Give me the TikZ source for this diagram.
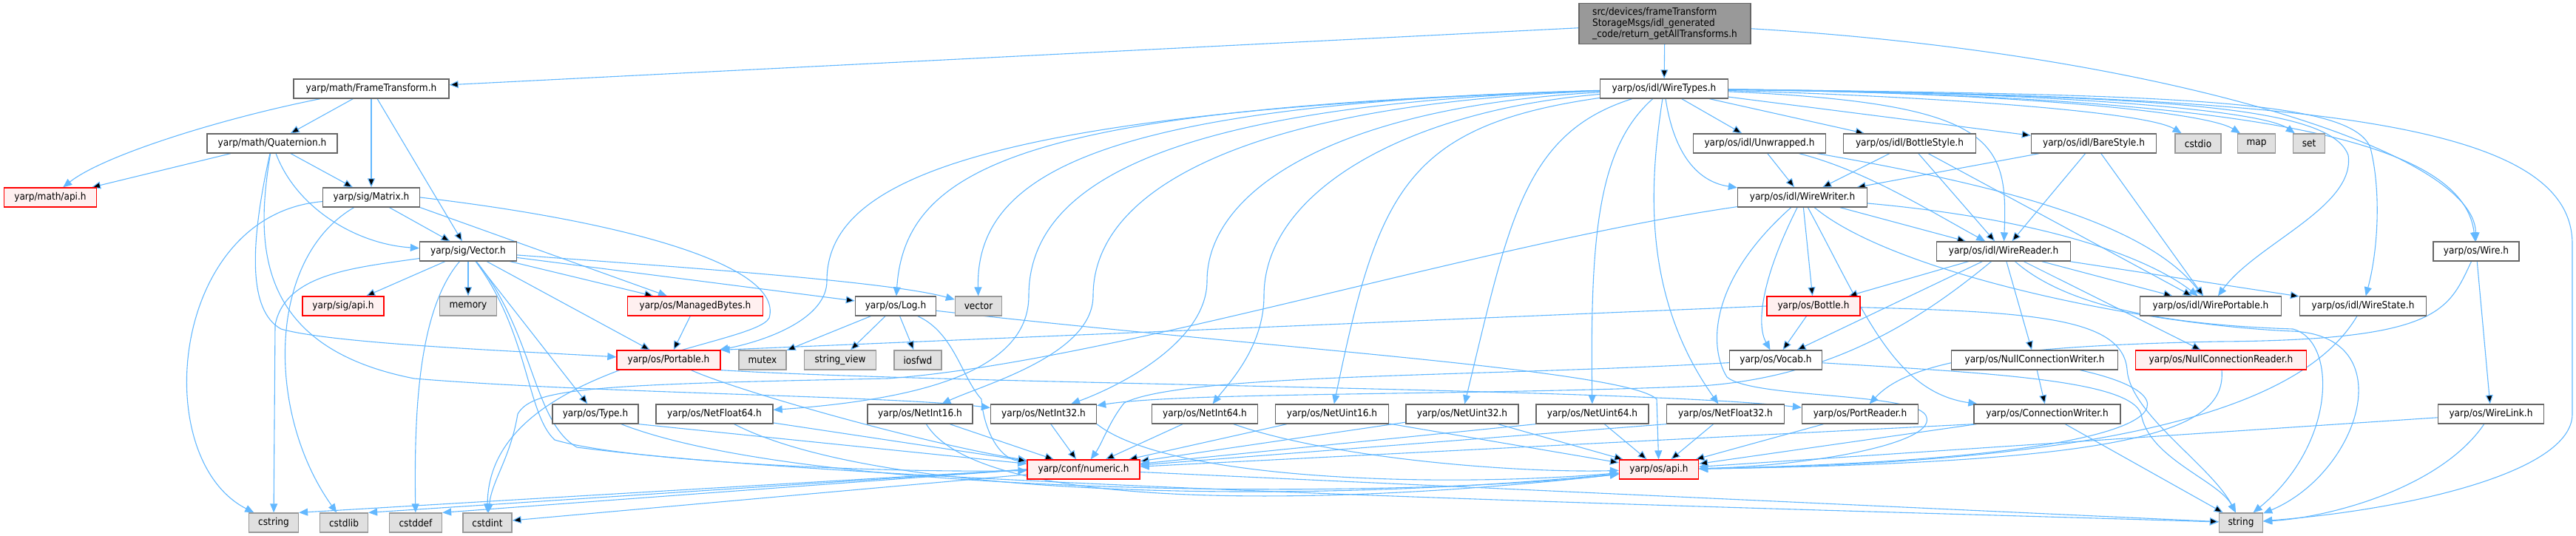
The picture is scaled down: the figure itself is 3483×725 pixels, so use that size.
\documentclass[tikz,border=0pt]{standalone}
\usepackage{fontspec}
\setmainfont{DejaVu Sans Condensed}
\usetikzlibrary{arrows.meta}
\definecolor{edgeblue}{HTML}{63B8FF}
\definecolor{boxline}{HTML}{666666}
\definecolor{sysline}{HTML}{999999}
\definecolor{sysfill}{HTML}{E0E0E0}
\definecolor{cutfill}{HTML}{FFF0F0}
\definecolor{rootfill}{HTML}{999999}
\pgfdeclarelayer{bg}
\pgfsetlayers{bg,main}
\tikzset{
  >={Triangle[length=12pt,width=10pt]},
  hdr/.style={draw=boxline,fill=white,line width=1.3pt,minimum height=26pt,
    inner sep=0pt,font=\fontsize{13.5}{15}\selectfont},
  syshdr/.style={hdr,draw=sysline,fill=sysfill},
  cuthdr/.style={hdr,draw=red,fill=cutfill},
  roothdr/.style={hdr,fill=rootfill,minimum height=55pt,align=left},
  dep/.style={->,draw=edgeblue,line width=1.1pt},
}
\begin{document}
\begin{tikzpicture}[x=1pt,y=1pt]
  \useasboundingbox (0,0) rectangle (3483,-725);
  \node[roothdr,minimum width=232pt] (ret) at (2251,-32)
       {src/devices/frameTransform\\StorageMsgs/idl\_generated\\\_code/return\_getAllTransforms.h};
  \node[hdr,minimum width=210pt] (ft) at (502,-120) {yarp/math/FrameTransform.h};
  \node[hdr,minimum width=173pt] (wt) at (2250,-120) {yarp/os/idl/WireTypes.h};
  \node[hdr,minimum width=176pt] (quat) at (368,-194) {yarp/math/Quaternion.h};
  \node[hdr,minimum width=179pt] (unw) at (2379,-194) {yarp/os/idl/Unwrapped.h};
  \node[hdr,minimum width=179pt] (bot) at (2582,-194) {yarp/os/idl/BottleStyle.h};
  \node[hdr,minimum width=169pt] (bare) at (2831,-194) {yarp/os/idl/BareStyle.h};
  \node[syshdr,minimum width=62pt] (cstdio) at (2972,-194) {cstdio};
  \node[syshdr,minimum width=51pt] (map) at (3051,-194) {map};
  \node[syshdr,minimum width=43pt] (set) at (3122,-194) {set};
  \node[cuthdr,minimum width=125pt] (mapi) at (68,-267) {yarp/math/api.h};
  \node[hdr,minimum width=131pt] (mat) at (502,-267) {yarp/sig/Matrix.h};
  \node[hdr,minimum width=175pt] (ww) at (2437,-267) {yarp/os/idl/WireWriter.h};
  \node[hdr,minimum width=131pt] (vec) at (633,-340) {yarp/sig/Vector.h};
  \node[hdr,minimum width=181pt] (wr) at (2709,-340) {yarp/os/idl/WireReader.h};
  \node[hdr,minimum width=116pt] (wire) at (3348,-340) {yarp/os/Wire.h};
  \node[cuthdr,minimum width=110pt] (sapi) at (464,-414) {yarp/sig/api.h};
  \node[syshdr,minimum width=77pt] (mem) at (633,-414) {memory};
  \node[cuthdr,minimum width=183pt] (mb) at (940,-414) {yarp/os/ManagedBytes.h};
  \node[hdr,minimum width=109pt] (log) at (1211,-414) {yarp/os/Log.h};
  \node[syshdr,minimum width=63pt] (vector) at (1323,-414) {vector};
  \node[cuthdr,minimum width=126pt] (bottle) at (2452,-414) {yarp/os/Bottle.h};
  \node[hdr,minimum width=191pt] (wp) at (2989,-414) {yarp/os/idl/WirePortable.h};
  \node[hdr,minimum width=171pt] (ws) at (3195,-414) {yarp/os/idl/WireState.h};
  \node[cuthdr,minimum width=140pt] (port) at (904,-487) {yarp/os/Portable.h};
  \node[syshdr,minimum width=64pt] (mutex) at (1031,-487) {mutex};
  \node[syshdr,minimum width=97pt] (sv) at (1136,-487) {string\_view};
  \node[syshdr,minimum width=64pt] (iosfwd) at (1241,-487) {iosfwd};
  \node[hdr,minimum width=125pt] (vocab) at (2401,-487) {yarp/os/Vocab.h};
  \node[hdr,minimum width=225pt] (ncw) at (2751,-487) {yarp/os/NullConnectionWriter.h};
  \node[cuthdr,minimum width=231pt] (ncr) at (3003,-487) {yarp/os/NullConnectionReader.h};
  \node[hdr,minimum width=116pt] (type) at (805,-560) {yarp/os/Type.h};
  \node[hdr,minimum width=158pt] (nf64) at (966,-560) {yarp/os/NetFloat64.h};
  \node[hdr,minimum width=142pt] (ni16) at (1244,-560) {yarp/os/NetInt16.h};
  \node[hdr,minimum width=143pt] (ni32) at (1411,-560) {yarp/os/NetInt32.h};
  \node[hdr,minimum width=143pt] (ni64) at (1629,-560) {yarp/os/NetInt64.h};
  \node[hdr,minimum width=153pt] (nu16) at (1801,-560) {yarp/os/NetUint16.h};
  \node[hdr,minimum width=152pt] (nu32) at (1977,-560) {yarp/os/NetUint32.h};
  \node[hdr,minimum width=152pt] (nu64) at (2153,-560) {yarp/os/NetUint64.h};
  \node[hdr,minimum width=159pt] (nf32) at (2333,-560) {yarp/os/NetFloat32.h};
  \node[hdr,minimum width=157pt] (pr) at (2515,-560) {yarp/os/PortReader.h};
  \node[hdr,minimum width=198pt] (cw) at (2768,-560) {yarp/os/ConnectionWriter.h};
  \node[hdr,minimum width=143pt] (wl) at (3368,-560) {yarp/os/WireLink.h};
  \node[cuthdr,minimum width=152pt] (num) at (1465,-635) {yarp/conf/numeric.h};
  \node[cuthdr,minimum width=107pt] (oapi) at (2243,-635) {yarp/os/api.h};
  \node[syshdr,minimum width=67pt] (cstring) at (370,-707) {cstring};
  \node[syshdr,minimum width=65pt] (cstdlib) at (465,-707) {cstdlib};
  \node[syshdr,minimum width=71pt] (cstddef) at (562,-707) {cstddef};
  \node[syshdr,minimum width=66pt] (cstdint) at (659,-707) {cstdint};
  \node[syshdr,minimum width=59pt] (string) at (3030,-707) {string};

  \begin{pgfonlayer}{bg}
  % root and math part
  \draw[dep] (ret) edge (ft) edge (wt);
  \draw[dep] (ret) .. controls (2900,-70) and (3345,-200) .. (wire);
  \draw[dep] (ft) .. controls (300,-160) and (140,-210) .. (mapi);
  \draw[dep] (ft) edge (quat) edge (mat) edge (vec);
  \draw[dep] (quat) edge (mapi) edge (mat);
  \draw[dep] (quat) .. controls (400,-280) and (480,-330) .. (vec);
  \draw[dep] (quat) .. controls (338,-330) and (335,-420) .. (380,-445)
             .. controls (450,-465) and (700,-475) .. (port);
  \draw[dep] (quat) .. controls (345,-330) and (345,-470) .. (560,-512)
             .. controls (800,-532) and (1200,-535) .. (ni32);
  \draw[dep] (mat) .. controls (230,-290) and (200,-620) .. (cstring);
  \draw[dep] (mat) .. controls (360,-350) and (360,-560) .. (cstdlib);
  \draw[dep] (mat) edge (vec);
  \draw[dep] (mat.south east) -- (mb);
  \draw[dep] (mat.east) .. controls (850,-300) and (1060,-360) .. (1040,-430)
             .. controls (1020,-470) and (660,-490) .. (cstdint);
  % Vector
  \draw[dep] (vec) .. controls (480,-362) and (385,-370) .. (372,-440) -- (cstring);
  \draw[dep] (vec) edge (sapi) edge (mem) edge (type) edge (port) edge (mb) edge (log);
  \draw[dep] (vec) .. controls (900,-360) and (1200,-380) .. (vector);
  \draw[dep] (vec) .. controls (565,-420) and (560,-560) .. (cstddef);
  \draw[dep] (vec) .. controls (715,-450) and (712,-560) .. (750,-595)
             .. controls (850,-625) and (1200,-640) .. (num);
  \draw[dep] (vec) .. controls (722,-450) and (720,-570) .. (780,-605)
             .. controls (1200,-660) and (2500,-690) .. (string);
  % WireTypes
  \draw[dep] (wt) edge (unw) edge (bot) edge (bare);
  \draw[dep] (wt) .. controls (2600,-130) and (2900,-150) .. (cstdio);
  \draw[dep] (wt) .. controls (2700,-125) and (2980,-150) .. (map);
  \draw[dep] (wt) .. controls (2800,-125) and (3060,-150) .. (set);
  \draw[dep] (wt) .. controls (2262,-200) and (2290,-245) .. (ww);
  \draw[dep] (wt) .. controls (2700,-140) and (2715,-190) .. (wr);
  \draw[dep] (wt) .. controls (2900,-130) and (3150,-140) .. (3175,-210)
             .. controls (3185,-280) and (3050,-330) .. (wp);
  \draw[dep] (wt) .. controls (2950,-128) and (3180,-135) .. (3205,-200)
             .. controls (3220,-260) and (3215,-340) .. (ws);
  \draw[dep] (wt) .. controls (3000,-130) and (3330,-180) .. (wire);
  \draw[dep] (wt) .. controls (3100,-130) and (3478,-160) .. (3478,-330) -- (3478,-560)
             .. controls (3478,-640) and (3250,-690) .. (string);
  \draw[dep] (wt) .. controls (1300,-150) and (1118,-250) .. (1118,-380)
             .. controls (1118,-430) and (1040,-460) .. (port);
  \draw[dep] (wt) .. controls (1400,-145) and (1224,-220) .. (log);
  \draw[dep] (wt) .. controls (1500,-140) and (1319,-230) .. (vector);
  \draw[dep] (wt) .. controls (1600,-140) and (1391,-240) .. (1391,-400)
             .. controls (1391,-500) and (1250,-540) .. (nf64);
  \draw[dep] (wt) .. controls (1700,-140) and (1478,-250) .. (1478,-400)
             .. controls (1478,-480) and (1330,-520) .. (ni16);
  \draw[dep] (wt) .. controls (1800,-145) and (1632,-260) .. (1632,-380)
             .. controls (1632,-460) and (1520,-520) .. (ni32);
  \draw[dep] (wt) .. controls (1900,-150) and (1709,-260) .. (1709,-400)
             .. controls (1709,-470) and (1660,-520) .. (ni64);
  \draw[dep] (wt) .. controls (1900,-170) and (1863,-260) .. (nu16);
  \draw[dep] (wt) .. controls (2060,-180) and (2040,-300) .. (nu32);
  \draw[dep] (wt) .. controls (2160,-200) and (2150,-320) .. (nu64);
  \draw[dep] (wt) .. controls (2230,-250) and (2220,-400) .. (nf32);
  % idl styles
  \draw[dep] (unw) edge (ww);
  \draw[dep] (unw) .. controls (2520,-230) and (2600,-280) .. (wr);
  \draw[dep] (unw) .. controls (2700,-250) and (2900,-300) .. (wp);
  \draw[dep] (bot) edge (ww) edge (wr) edge (wp);
  \draw[dep] (bare) edge (ww) edge (wr) edge (wp);
  % WireWriter
  \draw[dep] (ww) edge (wr) edge (bottle);
  \draw[dep] (ww) .. controls (2520,-420) and (2560,-530) .. (cw);
  \draw[dep] (ww) .. controls (2380,-380) and (2375,-440) .. (vocab);
  \draw[dep] (ww) .. controls (2800,-300) and (2920,-360) .. (wp);
  \draw[dep] (ww) .. controls (2560,-370) and (2900,-440) .. (3100,-448)
             .. controls (3250,-455) and (3190,-640) .. (string);
  \draw[dep] (ww) .. controls (2310,-380) and (2310,-470) .. (2335,-510)
             .. controls (2370,-540) and (2600,-530) .. (2605,-565)
             .. controls (2615,-600) and (2450,-630) .. (oapi);
  \draw[dep] (ww) .. controls (2000,-330) and (1500,-490) .. (1200,-512)
             .. controls (800,-520) and (720,-525) .. (700,-560)
             .. controls (690,-620) and (665,-650) .. (cstdint);
  % WireReader
  \draw[dep] (wr) edge (bottle) edge (vocab) edge (ncw) edge (ncr) edge (wp) edge (ws);
  \draw[dep] (wr) .. controls (2600,-430) and (2480,-510) .. (2300,-522)
             .. controls (2000,-535) and (1600,-530) .. (ni32);
  \draw[dep] (wr) .. controls (2800,-420) and (2950,-440) .. (3100,-445)
             .. controls (3160,-460) and (3160,-600) .. (string);
  % Bottle and Vocab
  \draw[dep] (bottle.west) -- (port.north east);
  \draw[dep] (bottle) edge (vocab);
  \draw[dep] (bottle) .. controls (2750,-422) and (2870,-430) .. (2876,-500)
             .. controls (2880,-560) and (2990,-630) .. (string);
  \draw[dep] (vocab) .. controls (2000,-510) and (1600,-505) .. (1520,-545)
             .. controls (1500,-570) and (1490,-600) .. (num);
  \draw[dep] (vocab) .. controls (2700,-505) and (2880,-515) .. (2895,-560)
             .. controls (2905,-620) and (3000,-650) .. (string);
  % connections
  \draw[dep] (ncw) edge (cw);
  \draw[dep] (ncw) .. controls (2990,-540) and (2950,-620) .. (oapi);
  \draw[dep] (ncr) .. controls (3010,-580) and (2900,-625) .. (oapi);
  \draw[dep] (ws) .. controls (3120,-540) and (2900,-625) .. (oapi);
  \draw[dep] (wl) -- (oapi);
  \draw[dep] (wl) .. controls (3300,-660) and (3150,-700) .. (string);
  \draw[dep] (pr) edge (oapi);
  \draw[dep] (cw) edge (oapi) edge (string);
  \draw[dep] (cw.south west) -- (num);
  \draw[dep] (wire) edge (wl);
  \draw[dep] (wire) .. controls (3310,-420) and (3300,-460) .. (3000,-462)
             .. controls (2700,-468) and (2580,-490) .. (pr);
  % Log, Type, Portable
  \draw[dep] (log) edge (mutex) edge (sv) edge (iosfwd);
  \draw[dep] (log) .. controls (1700,-470) and (2200,-500) .. (2240,-540) -- (oapi);
  \draw[dep] (log) .. controls (1290,-450) and (1300,-510) .. (1327,-540)
             .. controls (1330,-580) and (1350,-620) .. (num);
  \draw[dep] (type.south east) -- (num);
  \draw[dep] (type) .. controls (1100,-675) and (1900,-675) .. (oapi);
  \draw[dep] (port.south east) .. controls (1300,-520) and (2200,-525) .. (pr);
  \draw[dep] (port) .. controls (1000,-530) and (1250,-600) .. (num);
  \draw[dep] (mb) edge (port);
  % net types
  \draw[dep] (nf64) edge (num);
  \draw[dep] (nf64) .. controls (1200,-680) and (1800,-680) .. (oapi);
  \draw[dep] (ni16) edge (num);
  \draw[dep] (ni16) .. controls (1330,-700) and (1850,-680) .. (oapi);
  \draw[dep] (ni32) edge (num);
  \draw[dep] (ni32.south east) .. controls (1580,-650) and (1950,-660) .. (oapi);
  \draw[dep] (ni64) edge (num);
  \draw[dep] (ni64) .. controls (1800,-620) and (2050,-640) .. (oapi);
  \draw[dep] (nu16) edge (num) edge (oapi);
  \draw[dep] (nu32) edge (num) edge (oapi);
  \draw[dep] (nu64.south west) -- (num);
  \draw[dep] (nu64) edge (oapi);
  \draw[dep] (nf32.south west) -- (num);
  \draw[dep] (nf32) edge (oapi);
  % numeric
  \draw[dep] (num.west) -- (cstring.north east);
  \draw[dep] (num.west) -- (cstdlib.north east);
  \draw[dep] (num.west) -- (cstddef.north east);
  \draw[dep] (num) edge (cstdint) edge (string);
  \end{pgfonlayer}
\end{tikzpicture}
\end{document}
